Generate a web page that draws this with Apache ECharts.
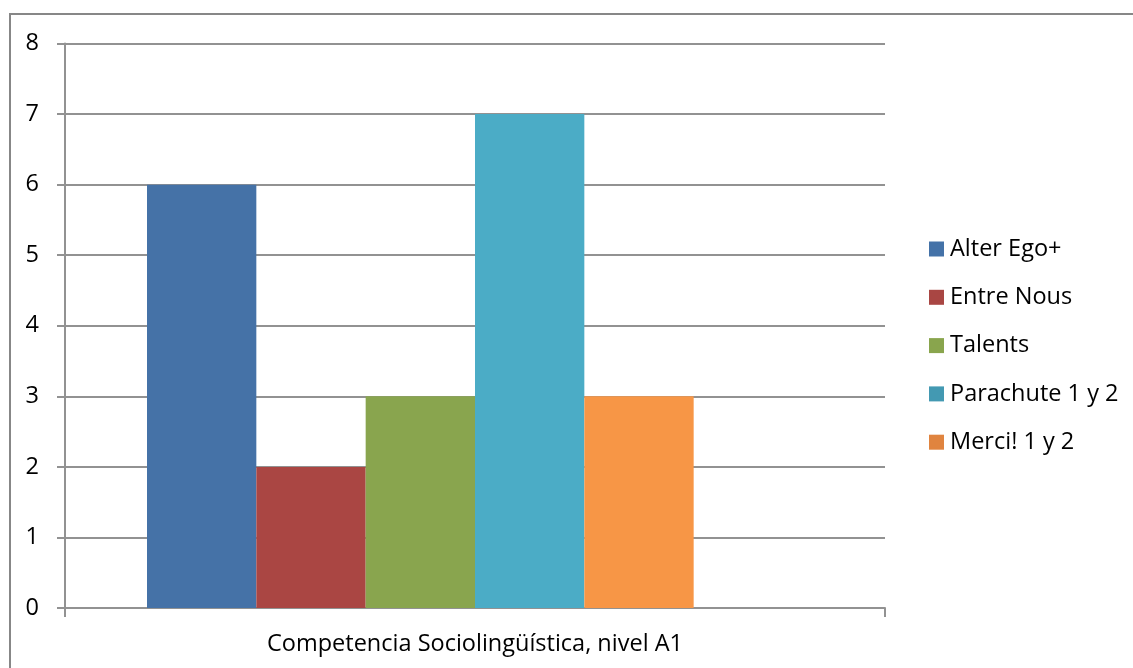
<!DOCTYPE html>
<html>
<head>
<meta charset="utf-8">
<script src="https://cdn.jsdelivr.net/npm/echarts@6/dist/echarts.min.js"></script>
<style>
html,body{margin:0;padding:0;background:#fff;}
#chart{width:1133px;height:668px;}
</style>
</head>
<body>
<div id="chart"></div>
<script>
var categories = ['Competencia Sociolingüística, nivel A1'];
var seriesNames = ['Alter Ego+', 'Entre Nous', 'Talents', 'Parachute 1 y 2', 'Merci! 1 y 2'];
var seriesValues = [6, 2, 3, 7, 3];
var seriesColors = ['#4572A7', '#AA4643', '#89A54E', '#4BACC6', '#F79646'];
var legendSwatchColors = ['#4472A8', '#A94643', '#89A54D', '#4399B2', '#E0843F'];
// Excel reserved an empty sixth slot in the cluster
var emptySlotName = '';
var yTicks = [0, 1, 2, 3, 4, 5, 6, 7, 8];

var FONT = '"Open Sans", "Noto Sans", sans-serif';
var LINE = '#929292';
var FS = 23.5;

var series = seriesNames.map(function (n, i) {
  return {
    name: n,
    type: 'bar',
    data: [seriesValues[i]],
    itemStyle: { color: seriesColors[i] },
    barGap: '0%',
    barCategoryGap: '20%',
    emphasis: { disabled: true }
  };
});
series.push({
  name: emptySlotName,
  type: 'bar',
  data: [null],
  barGap: '0%',
  barCategoryGap: '20%'
});

var chart = echarts.init(document.getElementById('chart'), null, { renderer: 'canvas' });
chart.setOption({
  animation: false,
  backgroundColor: '#ffffff',
  graphic: [{
    type: 'rect',
    shape: { x: 10, y: 14, width: 1200, height: 700 },
    style: { fill: 'none', stroke: '#878787', lineWidth: 2 },
    silent: true
  }],
  grid: { left: 65, right: 248, top: 43.5, bottom: 60, containLabel: false },
  legend: {
    data: seriesNames.map(function (n, i) {
      return { name: n, itemStyle: { color: legendSwatchColors[i] } };
    }),
    orient: 'vertical',
    left: 924,
    top: 232,
    icon: 'rect',
    itemWidth: 15,
    itemHeight: 15,
    itemGap: 24.3,
    textStyle: { fontFamily: FONT, fontSize: FS, color: '#000', lineHeight: 24, padding: [0, 0, 0, 1] },
    selectedMode: false
  },
  xAxis: {
    type: 'category',
    data: categories,
    axisLine: { show: true, lineStyle: { color: LINE, width: 2 } },
    axisTick: { show: true, length: 9, lineStyle: { color: LINE, width: 2 } },
    axisLabel: { margin: 24, fontFamily: FONT, fontSize: FS, color: '#000' },
    splitLine: { show: false }
  },
  yAxis: {
    type: 'value',
    min: yTicks[0],
    max: yTicks[yTicks.length - 1],
    interval: 1,
    axisLine: { show: true, lineStyle: { color: LINE, width: 2 } },
    axisTick: { show: true, length: 8, lineStyle: { color: LINE, width: 2 } },
    axisLabel: { margin: 26, fontFamily: FONT, fontSize: FS, color: '#000' },
    splitLine: { show: true, lineStyle: { color: LINE, width: 2 } }
  },
  series: series
});
</script>
</body>
</html>
